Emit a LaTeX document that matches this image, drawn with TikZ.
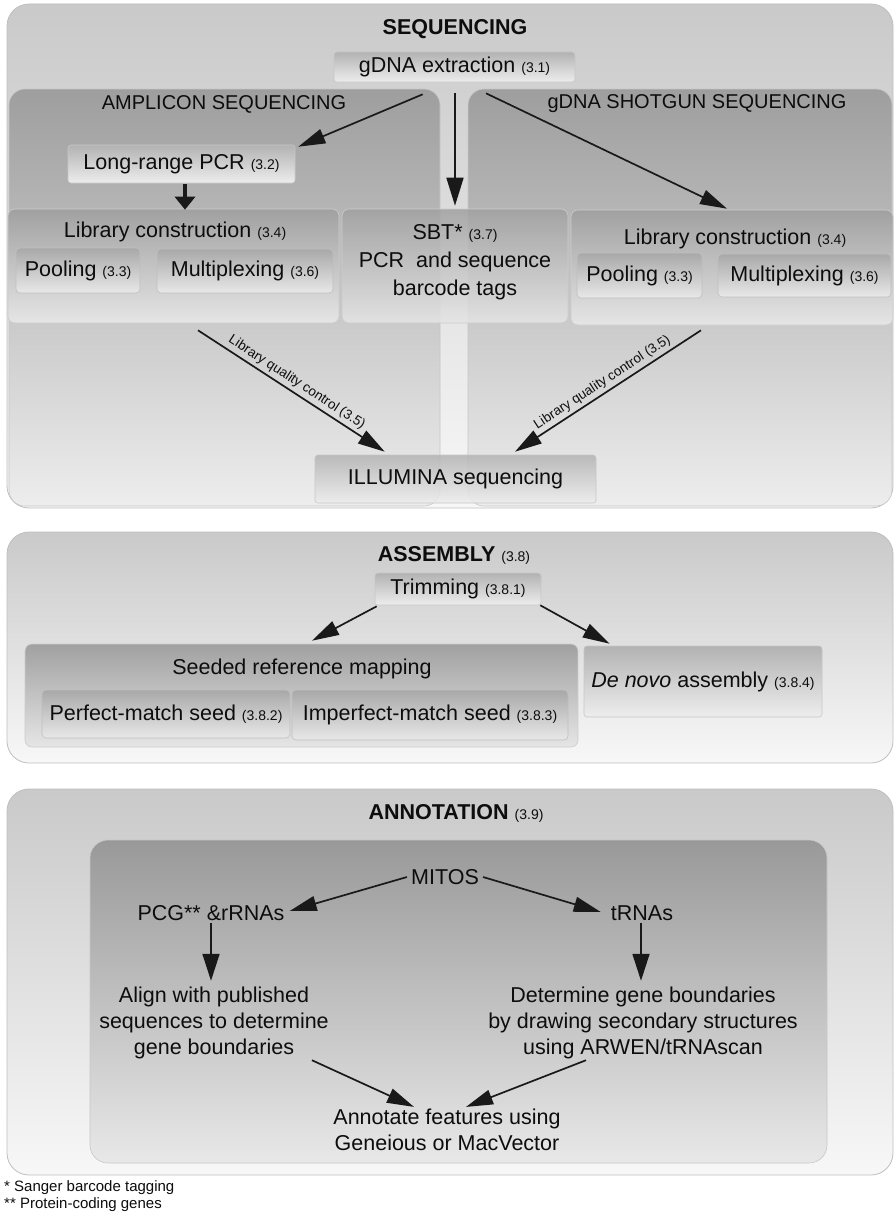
\documentclass[tikz,border=0pt]{standalone}
\usepackage{fontspec}
\setmainfont{Liberation Sans}
\usetikzlibrary{arrows.meta,calc}
\newcommand\secn[1]{{\fontsize{14}{16}\selectfont #1}}
\begin{document}
\begin{tikzpicture}[x=1pt,y=-1pt,
 every node/.style={font=\fontsize{21.5}{26}\selectfont, text=black!95, inner sep=0pt},
 panel/.style={draw=black!25, line width=0.8pt, rounded corners=22pt, top color=black!21, bottom color=black!3},
 group/.style={draw=black!22, line width=0.6pt, rounded corners=16pt, top color=black!38, bottom color=black!7},
 libbox/.style={draw=black!20, line width=0.6pt, rounded corners=7pt, top color=black!37, bottom color=black!10},
 subbox/.style={draw=black!25, line width=0.6pt, rounded corners=4pt, top color=black!34, bottom color=black!9},
 stepbox/.style={draw=black!22, line width=0.6pt, rounded corners=3pt, top color=black!30, bottom color=black!7},
 title/.style={font=\fontsize{21.5}{26}\selectfont\bfseries},
 header/.style={font=\fontsize{20}{24}\selectfont},
 plain/.style={inner sep=4pt},
 arr/.style={draw=black!90, line width=1.7pt, -{Triangle[length=27pt,width=15pt]}},
 qc/.style={font=\fontsize{13.5}{15}\selectfont, sloped, above=3pt}]
\useasboundingbox (0,0) rectangle (895,1215);
\fill[white] (0,0) rectangle (895,1215);

% ---------------- SEQUENCING ----------------
\node[panel, minimum width=886, minimum height=504] (seq) at (450,256) {};
\node[group, minimum width=431, minimum height=417] (amp) at (224.5,297.5) {};
\node[group, minimum width=424, minimum height=417] (shot) at (680,297.5) {};
\node[title] (seqt) at (455,29) {SEQUENCING};
\node[stepbox, minimum width=241, minimum height=30] (gdna) at (454.5,67) {gDNA extraction \secn{(3.1)}};
\node[header] (ampt) at (224,104) {AMPLICON SEQUENCING};
\node[header] (shott) at (697,104) {gDNA SHOTGUN SEQUENCING};
\node[stepbox, minimum width=227, minimum height=38] (lrpcr) at (181.5,164) {Long-range PCR \secn{(3.2)}};

\node[libbox, minimum width=331, minimum height=114] (libL) at (173.5,266) {};
\node (libLt) at (175,232) {Library construction \secn{(3.4)}};
\node[subbox, minimum width=124, minimum height=45] (poolL) at (78,270.5) {Pooling \secn{(3.3)}};
\node[subbox, minimum width=176, minimum height=44] (multL) at (245,271) {Multiplexing \secn{(3.6)}};

\node[libbox, fill opacity=0.85, text opacity=1, minimum width=226, minimum height=114] (sbt) at (455,266) {};
\node[align=center, font=\fontsize{21.5}{28}\selectfont] (sbtt) at (455,262) {SBT* \secn{(3.7)}\\PCR\ \ and sequence\\barcode tags};

\node[libbox, minimum width=322, minimum height=115] (libR) at (732,267.5) {};
\node (libRt) at (735,239) {Library construction \secn{(3.4)}};
\node[subbox, minimum width=125, minimum height=45] (poolR) at (639.5,275.5) {Pooling \secn{(3.3)}};
\node[subbox, minimum width=173, minimum height=43] (multR) at (804.5,275.5) {Multiplexing \secn{(3.6)}};

\node[stepbox, fill opacity=0.85, text opacity=1, minimum width=281, minimum height=48] (illum) at (455.5,479) {ILLUMINA sequencing};

\draw[arr] ($(gdna.south west)+(89,12)$) -- ($(lrpcr.north east)+(3,2)$);
\draw[arr, -{Triangle[length=28pt,width=17pt]}] ($(gdna.south)+(0.5,11)$) -- ($(sbt.north)+(0,-3)$);
\draw[arr] ($(gdna.south)+(31.5,11)$) -- ($(libR.north)+(-5,-1)$);
\draw[draw=black!90, line width=4pt, -{Triangle[length=13pt,width=20pt]}] ($(lrpcr.south)+(3.5,1)$) -- ($(libL.north)+(11.5,1)$);
\draw[arr] ($(libL.south)+(24.5,7)$) -- node[qc] {Library quality control (3.5)} ($(illum.north west)+(70,-3)$);
\draw[arr] ($(libR.south)+(-31,5)$) -- node[qc] {Library quality control (3.5)} ($(illum.north)+(59.5,-3)$);

% ---------------- ASSEMBLY ----------------
\node[panel, minimum width=886, minimum height=231] (asm) at (450,647.5) {};
\node (asmt) at (454,555) {\textbf{ASSEMBLY} \secn{(3.8)}};
\node[stepbox, minimum width=166, minimum height=32] (trim) at (458,589) {Trimming \secn{(3.8.1)}};
\node[libbox, minimum width=553, minimum height=103] (seed) at (301.5,695.5) {};
\node (seedt) at (302,669) {Seeded reference mapping};
\node[subbox, minimum width=248, minimum height=48] (perf) at (166,714) {Perfect-match seed \secn{(3.8.2)}};
\node[subbox, minimum width=276, minimum height=50] (imperf) at (430,715) {Imperfect-match seed \secn{(3.8.3)}};
\node[stepbox, minimum width=238, minimum height=71] (denovo) at (703,681.5) {\textit{De novo} assembly \secn{(3.8.4)}};
\draw[arr] ($(trim.south west)+(2,1)$) -- ($(seed.north)+(10.5,-3)$);
\draw[arr] ($(trim.south east)+(-1,0)$) -- ($(denovo.north west)+(26,-2)$);

% ---------------- ANNOTATION ----------------
\node[panel, minimum width=886, minimum height=386] (ann) at (450,982) {};
\node (annt) at (456,813) {\textbf{ANNOTATION} \secn{(3.9)}};
\node[draw=black!22, line width=0.6pt, rounded corners=18pt, top color=black!40, bottom color=black!9, minimum width=737, minimum height=323] (annin) at (458.5,1001.5) {};
\node[plain] (mitos) at (445,877) {MITOS};
\node[plain] (pcg) at (211,913) {PCG** \&rRNAs};
\node[plain] (trnas) at (642,913) {tRNAs};
\node[align=center] (alig) at (214,1023) {Align with published\\sequences to determine\\gene boundaries};
\node[align=center] (detm) at (643,1023) {Determine gene boundaries\\by drawing secondary structures\\using ARWEN/tRNAscan};
\node[align=center] (annot) at (447,1130) {Annotate features using\\Geneious or MacVector};
\draw[arr] (mitos.west) -- ($(pcg.east)+(1,-2)$);
\draw[arr] (mitos.east) -- ($(trnas.west)+(-6,-1)$);
\draw[arr, -{Triangle[length=27pt,width=17pt]}] ($(pcg.south)+(0,-2)$) -- ($(pcg.south |- alig.north)+(0,-6)$);
\draw[arr, -{Triangle[length=27pt,width=17pt]}] ($(trnas.south)+(-1,-2)$) -- ($(trnas.south |- detm.north)+(-1,-6)$);
\draw[arr] ($(alig.south east)+(-17,1)$) -- ($(annot.north)+(-33,-2)$);
\draw[arr] ($(detm.south)+(-57,1)$) -- ($(annot.north)+(19,-2)$);

% ---------------- footnotes ----------------
\node[anchor=west, align=left, font=\fontsize{15}{16.5}\selectfont] (foot) at (4,1196) {* Sanger barcode tagging\\** Protein-coding genes};
\end{tikzpicture}
\end{document}
